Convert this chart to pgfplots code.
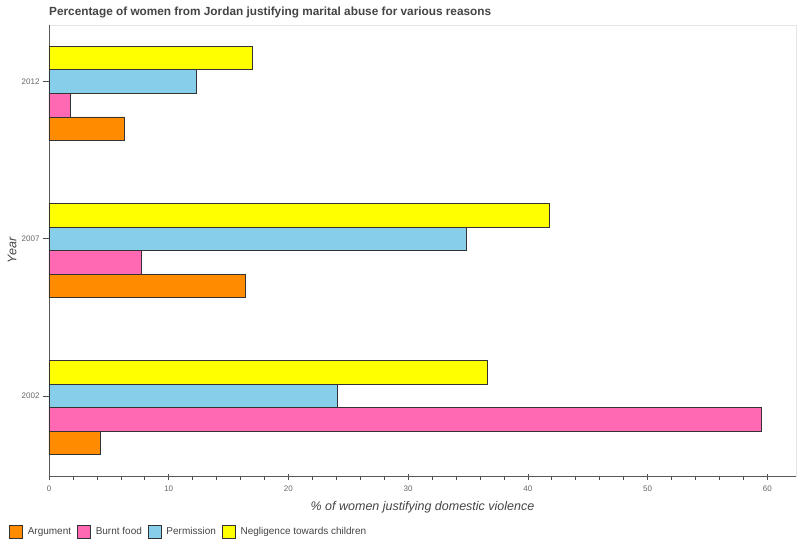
\documentclass[border=0pt]{standalone}
\usepackage{pgfplots}
\pgfplotsset{compat=1.18}
\usepackage{fontspec}
\setmainfont{Liberation Sans}
\definecolor{argc}{HTML}{FF8C00}
\definecolor{burnc}{HTML}{FF69B4}
\definecolor{permc}{HTML}{87CEEB}
\definecolor{neglc}{HTML}{FFFF00}
\definecolor{txt}{HTML}{444444}
\definecolor{tck}{HTML}{666666}
\begin{document}
\begin{tikzpicture}
\useasboundingbox (-49pt,-74pt) rectangle (751pt,476pt);
\begin{axis}[
  scale only axis, width=747pt, height=451pt,
  xbar, bar width=0.15,
  xmin=0, xmax=62.4, ymin=-0.51, ymax=2.36,
  axis x line*=bottom, axis y line*=left,
  axis line style={black!65, line width=0.9pt},
  axis background/.style={draw=black!10, line width=0.6pt},
  xtick={0,10,...,60}, minor x tick num=4,
  ytick={0,1,2}, yticklabels={2002,2007,2012},
  tick align=outside, major tick length=6pt, minor tick length=3.5pt,
  tick style={black!70, line width=0.6pt},
  major x tick style={yshift=2pt},
  ticklabel style={font=\fontsize{8}{9}\selectfont, text=tck},
  /pgf/number format/assume math mode=true,
  xlabel={\% of women justifying domestic violence},
  ylabel={Year},
  xlabel style={at={(axis description cs:0.5,-0.0687)}, anchor=center, font=\fontsize{12.5}{14}\selectfont\itshape, text=txt},
  ylabel style={at={(axis description cs:-0.0495,0.5)}, anchor=center, font=\fontsize{12.5}{14}\selectfont\itshape, text=txt},
  title={Percentage of women from Jordan justifying marital abuse for various reasons},
  title style={at={(axis description cs:0,1)}, anchor=base west, yshift=4pt, inner sep=0pt, font=\fontsize{11.8}{13}\selectfont\bfseries, text=txt},
  legend columns=-1,
  legend style={at={(axis description cs:0,0)}, anchor=west, xshift=-40pt, yshift=-56pt, draw=none, fill=none, font=\fontsize{10}{12}\selectfont, text=txt, inner sep=0pt, nodes={inner sep=0pt},
    /tikz/every even column/.style={column sep=6pt},
    /tikz/every odd column/.style={column sep=5pt}},
  legend image code/.code={\draw[#1, draw=black!80, line width=0.6pt] (0pt,-6.5pt) rectangle (13pt,6.5pt);},
  every axis plot/.append style={draw=black!80, line width=0.6pt},
]
\addplot[fill=argc, bar shift=-0.3] coordinates {(4.3,0) (16.4,1) (6.3,2)};
\addplot[fill=burnc, bar shift=-0.15] coordinates {(59.5,0) (7.7,1) (1.8,2)};
\addplot[fill=permc, bar shift=0] coordinates {(24.1,0) (34.9,1) (12.3,2)};
\addplot[fill=neglc, bar shift=0.15] coordinates {(36.6,0) (41.8,1) (17.0,2)};
\legend{Argument, Burnt food, Permission, Negligence towards children}
\end{axis}
\end{tikzpicture}
\end{document}
